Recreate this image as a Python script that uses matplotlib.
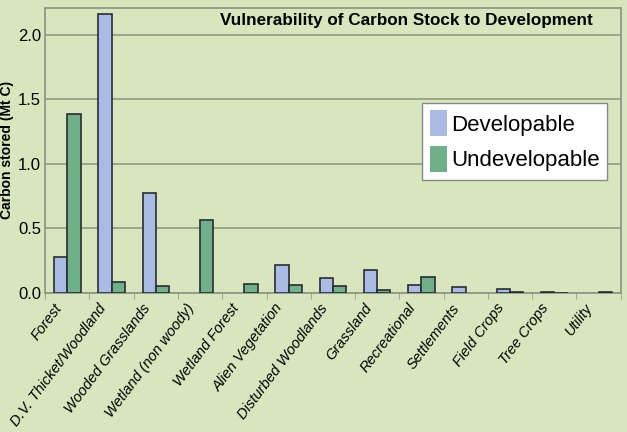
import numpy as np
import matplotlib.pyplot as plt
from matplotlib.transforms import ScaledTranslation

plt.rcParams['font.family'] = ['Liberation Sans', 'DejaVu Sans']

# Категории и значения (Mt C)
categories = ['Forest', 'D.V. Thicket/Woodland', 'Wooded Grasslands',
              'Wetland (non woody)', 'Wetland Forest', 'Alien Vegetation',
              'Disturbed Woodlands', 'Grassland', 'Recreational', 'Settlements',
              'Field Crops', 'Tree Crops', 'Utility']
developable = [0.28, 2.16, 0.775, 0.0, 0.0, 0.215, 0.115, 0.175, 0.06, 0.045,
               0.03, 0.005, 0.0]
undevelopable = [1.39, 0.085, 0.05, 0.565, 0.07, 0.06, 0.05, 0.025, 0.125, 0.0,
                 0.01, 0.003, 0.01]

bg = '#d7e6bd'
fig = plt.figure(figsize=(6.27, 4.32), dpi=100, facecolor=bg)
ax = fig.add_axes([0.072, 0.322, 0.918, 0.66])
ax.set_facecolor(bg)

x = np.arange(len(categories))
w = 0.3
b1 = ax.bar(x - w/2, developable, w, color='#a9bbe2', edgecolor='#2b2b33', linewidth=1.2,
            label='Developable', zorder=3)
b2 = ax.bar(x + w/2, undevelopable, w, color='#6fb089', edgecolor='#2b2b33', linewidth=1.2,
            label='Undevelopable', zorder=3)
# нулевые столбцы не рисуем
for p in list(b1) + list(b2):
    if p.get_height() == 0:
        p.set_visible(False)

ax.set_xlim(-0.5, len(categories) - 0.5)
ax.set_ylim(0, 2.21)
ax.set_yticks([0, 0.5, 1.0, 1.5, 2.0])
ax.set_yticklabels(['0.0', '0.5', '1.0', '1.5', '2.0'], fontsize=12)
ax.yaxis.grid(True, color='#8f9a86', linewidth=1.2, zorder=0)
ax.tick_params(axis='y', length=0, pad=3)

ax.set_xticks(x)
ax.set_xticks(np.arange(-0.5, len(categories)), minor=True)
ax.tick_params(axis='x', which='major', length=0, pad=4)
ax.tick_params(axis='x', which='minor', length=4, color='#8f9a86')
ax.set_xticklabels(categories, rotation=53, ha='right', va='center',
                   rotation_mode='anchor', fontstyle='italic', fontsize=10.5)
# сдвиг подписей влево-вниз (после tick_params, иначе сбрасывается)
shift = ScaledTranslation(-6/72, -5/72, fig.dpi_scale_trans)
for lbl in ax.get_xticklabels():
    lbl.set_transform(lbl.get_transform() + shift)

for s in ax.spines.values():
    s.set_color('#8f9a86')
    s.set_linewidth(1.3)

ax.set_ylabel('Carbon stored (Mt C)', fontsize=10, fontweight='bold', labelpad=3)
ax.text(0.628, 0.955, 'Vulnerability of Carbon Stock to Development', transform=ax.transAxes,
        ha='center', va='center', fontsize=12.3, fontweight='bold')

leg = ax.legend(loc='upper right', bbox_to_anchor=(0.977, 0.667), fontsize=16,
                frameon=True, fancybox=False, edgecolor='#888888', framealpha=1,
                facecolor='white', handlelength=0.75, handleheight=1.4,
                handletextpad=0.2, borderpad=0.35, labelspacing=0.45, borderaxespad=0)
leg.get_frame().set_linewidth(1.0)
for p in leg.get_patches():
    p.set_edgecolor('none')

fig.savefig('out.png', dpi=100, facecolor=bg)
